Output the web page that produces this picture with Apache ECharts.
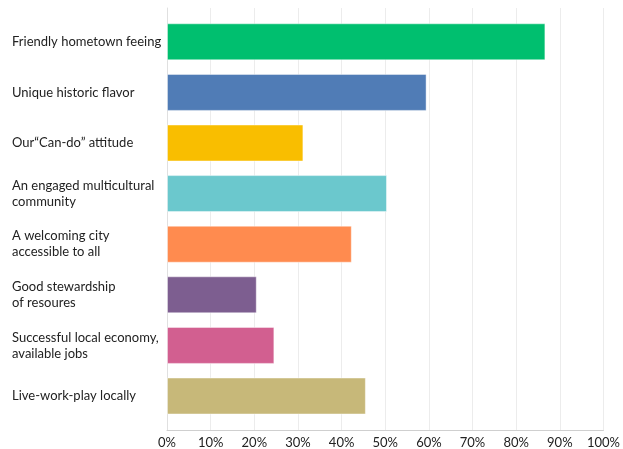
<!DOCTYPE html>
<html><head><meta charset="utf-8">
<script src="https://cdn.jsdelivr.net/npm/echarts@6/dist/echarts.min.js"></script>
<style>html,body{margin:0;padding:0;background:#fff}#c{width:623px;height:449px}</style>
</head><body><div id="c"></div>
<script>
const categories = [
  "Friendly hometown feeing",
  "Unique historic flavor",
  "Our\u201cCan-do\u201d attitude",
  "An engaged multicultural\ncommunity",
  "A welcoming city\naccessible to all",
  "Good stewardship\nof resoures",
  "Successful local economy,\navailable jobs",
  "Live-work-play locally"
];
const values = [86, 59, 31, 50, 42, 20.4, 24.4, 45.2];
const colors = ["#00BF6F", "#507CB6", "#F9BE00", "#6BC8CD", "#FF8B4F", "#7D5E90", "#D25F90", "#C7B879"];
const tickLabels = ["0%","10%","20%","30%","40%","50%","60%","70%","80%","90%","100%"];

const font = "Lato, 'Open Sans', sans-serif";
const chart = echarts.init(document.getElementById('c'), null, {renderer: 'canvas'});
chart.setOption({
  animation: false,
  grid: [
    {left: 167, right: 16, top: 8, bottom: 19, containLabel: false},
    {left: 167, right: 16, top: 16.5, bottom: 27.7, containLabel: false}
  ],
  xAxis: [
    {gridIndex: 0, type: 'value', min: 0, max: 100, interval: 10,
     axisLine: {show: true, lineStyle: {color: '#cfcfcf'}},
     axisTick: {show: false},
     splitLine: {show: true, lineStyle: {color: '#ececec', width: 1}},
     axisLabel: {formatter: v => tickLabels[Math.round(v/10)], color: '#222', fontSize: 13, fontFamily: font, margin: 6}},
    {gridIndex: 1, type: 'value', min: 0, max: 100, show: false}
  ],
  yAxis: [
    {gridIndex: 0, type: 'category', data: [''], show: true,
     axisLine: {show: true, lineStyle: {color: '#e0e0e0'}}, axisTick: {show: false}, axisLabel: {show: false}},
    {gridIndex: 1, type: 'category', inverse: true, data: categories,
     axisLine: {show: false}, axisTick: {show: false},
     axisLabel: {align: 'left', margin: 155, color: '#222', fontSize: 13, fontFamily: font, lineHeight: 16}}
  ],
  series: [{
    type: 'bar', xAxisIndex: 1, yAxisIndex: 1, barWidth: 37,
    data: values.map((v, i) => ({value: v, itemStyle: {color: colors[i], borderColor: 'rgba(255,255,255,0.45)', borderWidth: 1}}))
  }]
});
</script></body></html>
